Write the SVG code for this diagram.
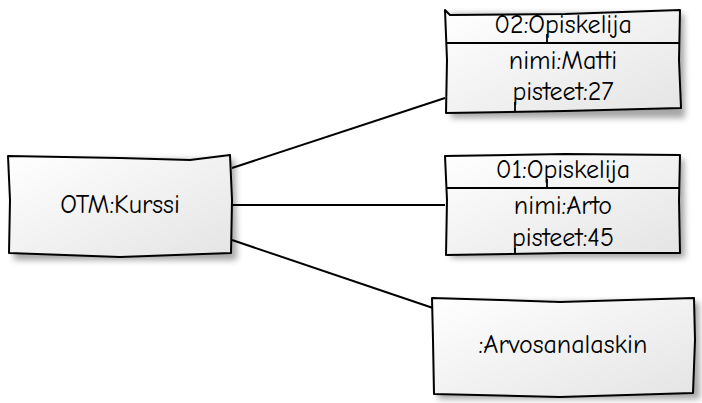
<svg xmlns="http://www.w3.org/2000/svg" width="702" height="403" viewBox="0 0 702 403">
<style>
.box{fill:url(#g);stroke:#000;stroke-width:2;stroke-linejoin:round}
.sh{fill:#000;opacity:0.35;filter:url(#blur)}
.ln{stroke:#000;stroke-width:2;fill:none}
.tk{stroke:#000;stroke-width:1.8;fill:none}
text{font-family:"Comic Neue","Liberation Sans",sans-serif;font-size:26px;fill:#000;text-anchor:middle;dominant-baseline:central}
</style>
<defs>
<linearGradient id="g" x1="0" y1="0" x2="1" y2="1">
<stop offset="0" stop-color="#ffffff"/>
<stop offset="1" stop-color="#e4e4e4"/>
</linearGradient>
<filter id="blur" x="-10%" y="-10%" width="130%" height="130%"><feGaussianBlur stdDeviation="3"/></filter>
</defs>
<g id="connectors">
<path class="ln" d="M232 168 L445 98"/>
<path class="ln" d="M232 205 L445 205"/>
<path class="ln" d="M232 240 L433 308"/>
</g>
<g id="kurssi">
<path class="sh" d="M13 160 L235 160 L237 260 L14 260 Z"/>
<path class="box" d="M8 156 L120 158 L190 160 L230 155 L232 200 L231 253 L120 257 L9 253 L10 200 Z"/>
<text x="120" y="205">OTM:Kurssi</text>
</g>
<g id="opiskelija2">
<path class="sh" d="M450 14 L684 14 L685 118 L451 118 Z"/>
<path class="box" d="M445 10 L450 15 L565 14 L680 10 L679 60 L681 108 L565 111 L446 113 L447 60 Z"/>
<path class="ln" d="M446 43 L680 43"/>
<path class="tk" d="M547 34 L547 43"/>
<path class="tk" d="M515 102 L515 112"/>
<text x="563" y="25">02:Opiskelija</text>
<text x="563" y="61">nimi:Matti</text>
<text x="563" y="92">pisteet:27</text>
</g>
<g id="opiskelija1">
<path class="sh" d="M450 159 L684 159 L685 258 L451 258 Z"/>
<path class="box" d="M445 156 L565 154 L680 155 L679 200 L680 253 L565 253 L446 255 L447 200 Z"/>
<path class="ln" d="M446 188 L680 188"/>
<path class="tk" d="M547 179 L547 188"/>
<path class="tk" d="M515 248 L515 254"/>
<text x="563" y="170">01:Opiskelija</text>
<text x="563" y="206">nimi:Arto</text>
<text x="563" y="238">pisteet:45</text>
</g>
<g id="arvosanalaskin">
<path class="sh" d="M437 302 L699 302 L700 399 L438 399 Z"/>
<path class="box" d="M432 298 L500 300 L560 302 L694 298 L695 340 L693 393 L560 397 L434 394 L433 340 Z"/>
<text x="563" y="345">:Arvosanalaskin</text>
</g>
</svg>
